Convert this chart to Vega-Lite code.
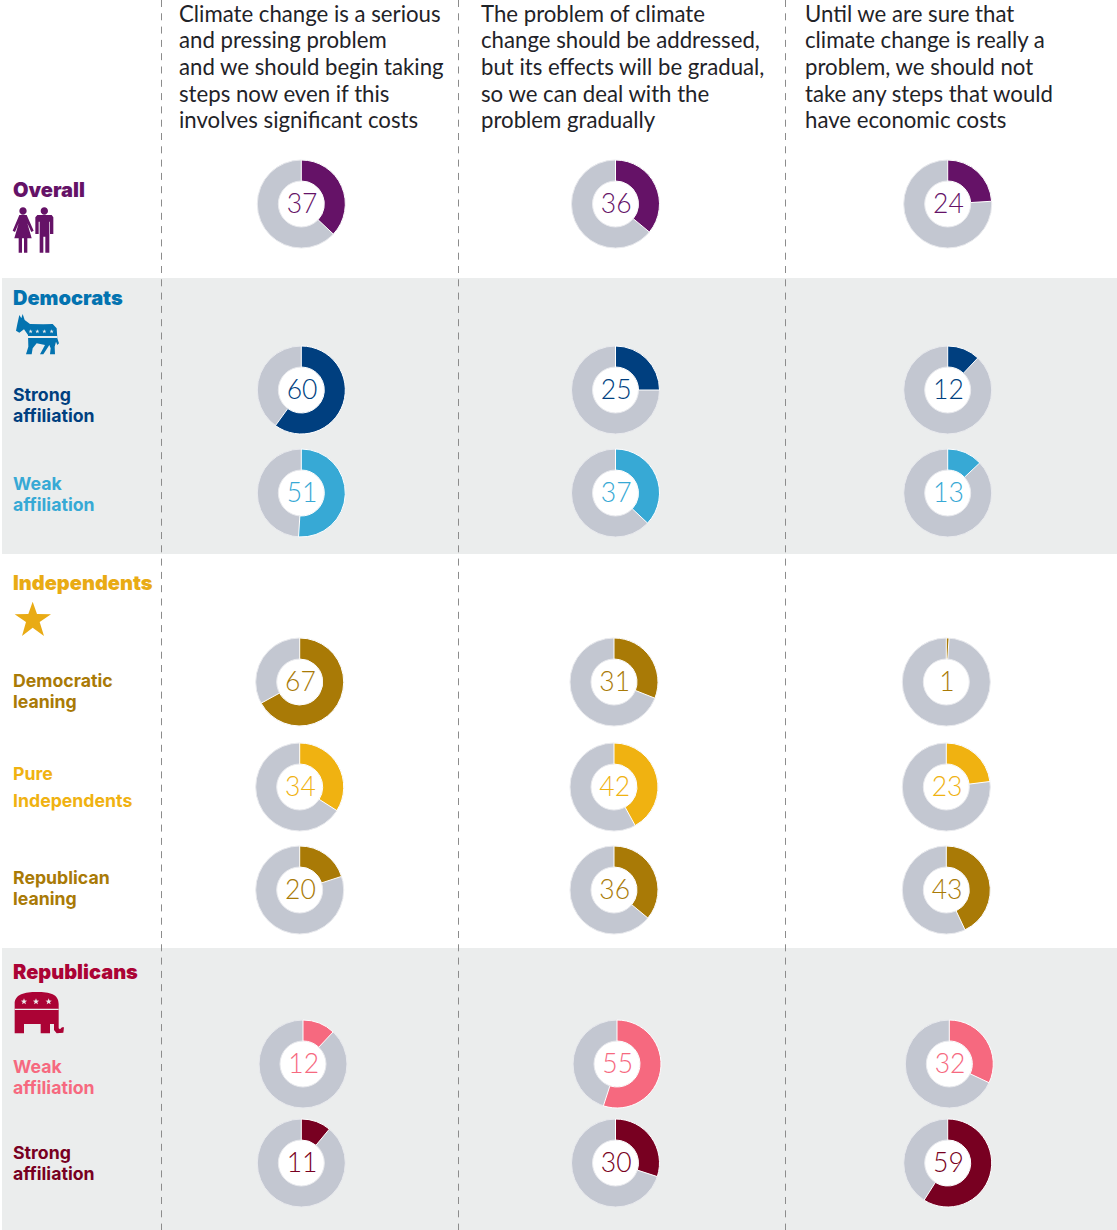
{
"$schema":"https://vega.github.io/schema/vega-lite/v6.json",
"width":1117,"height":1230,"padding":0,"autosize":{"type":"none"},"background":"#ffffff",
"config":{"view":{"stroke":null}},
"datasets":{
"bands":[{"group":"Democrats","xslot":0,"xslot2":9,"slot":5,"slot2":12},{"group":"Republicans","xslot":0,"xslot2":9,"slot":21,"slot2":28}],
"rules":[{"xslot":3,"slot":0,"slot2":28},{"xslot":5,"slot":0,"slot2":28},{"xslot":7,"slot":0,"slot2":28}],
"headers":[
{"xslot":4,"slot":1,"text":"Climate change is a serious\nand pressing problem\nand we should begin taking\nsteps now even if this\ninvolves significant costs"},
{"xslot":6,"slot":1,"text":"The problem of climate\nchange should be addressed,\nbut its effects will be gradual,\nso we can deal with the\nproblem gradually"},
{"xslot":8,"slot":1,"text":"Until we are sure that\nclimate change is really a\nproblem, we should not\ntake any steps that would\nhave economic costs"}],
"titles":[
{"text":"Overall","slot":2,"series":"Overall","xslot":1},
{"text":"Democrats","slot":6,"series":"Democrats","xslot":1},
{"text":"Independents","slot":13,"series":"Independents","xslot":1},
{"text":"Republicans","slot":22,"series":"Republicans","xslot":1}],
"icons":[
{"icon":"people","slot":4,"series":"Overall","xslot":2},
{"icon":"donkey","slot":7,"series":"Democrats","xslot":2},
{"icon":"donkeyMarks","slot":7,"series":"Detail","xslot":2},
{"icon":"star","slot":14,"series":"Independents","xslot":2},
{"icon":"elephant","slot":23,"series":"Republicans","xslot":2},
{"icon":"elephantMarks","slot":23,"series":"Detail","xslot":2}],
"labels":[
{"text":"Strong\naffiliation","slot":9,"series":"Dem strong","xslot":1,"spacing":"tight"},
{"text":"Weak\naffiliation","slot":10,"series":"Dem weak","xslot":1,"spacing":"tight"},
{"text":"Democratic\nleaning","slot":15,"series":"Dem leaning","xslot":1,"spacing":"tight"},
{"text":"Pure\nIndependents","slot":17,"series":"Pure","xslot":1,"spacing":"wide"},
{"text":"Republican\nleaning","slot":19,"series":"Rep leaning","xslot":1,"spacing":"tight"},
{"text":"Weak\naffiliation","slot":25,"series":"Rep weak","xslot":1,"spacing":"tight"},
{"text":"Strong\naffiliation","slot":26,"series":"Rep strong","xslot":1,"spacing":"tight"}],
"donuts":[
{"series":"Overall","slot":3,"col":1,"value":37},{"series":"Overall","slot":3,"col":2,"value":36},{"series":"Overall","slot":3,"col":3,"value":24},
{"series":"Dem strong","slot":8,"col":1,"value":60},{"series":"Dem strong","slot":8,"col":2,"value":25},{"series":"Dem strong","slot":8,"col":3,"value":12},
{"series":"Dem weak","slot":11,"col":1,"value":51},{"series":"Dem weak","slot":11,"col":2,"value":37},{"series":"Dem weak","slot":11,"col":3,"value":13},
{"series":"Dem leaning","slot":16,"col":1,"value":67},{"series":"Dem leaning","slot":16,"col":2,"value":31},{"series":"Dem leaning","slot":16,"col":3,"value":1},
{"series":"Pure","slot":18,"col":1,"value":34},{"series":"Pure","slot":18,"col":2,"value":42},{"series":"Pure","slot":18,"col":3,"value":23},
{"series":"Rep leaning","slot":20,"col":1,"value":20},{"series":"Rep leaning","slot":20,"col":2,"value":36},{"series":"Rep leaning","slot":20,"col":3,"value":43},
{"series":"Rep weak","slot":24,"col":1,"value":12},{"series":"Rep weak","slot":24,"col":2,"value":55},{"series":"Rep weak","slot":24,"col":3,"value":32},
{"series":"Rep strong","slot":27,"col":1,"value":11},{"series":"Rep strong","slot":27,"col":2,"value":30},{"series":"Rep strong","slot":27,"col":3,"value":59}]
},
"data":{"name":"donuts"},
"resolve":{"scale":{"x":"independent"}},
"encoding":{
"y":{"field":"slot","type":"quantitative","axis":null,"scale":{"nice":false,"zero":false,"domain":[0,1,2,3,4,5,6,7,8,9,10,11,12,13,14,15,16,17,18,19,20,21,22,23,24,25,26,27,28],"range":[0,14.5,190,204,230,278,298,335,390,395,484,493,554,583,620,681,682,774,787,878,890,948,972,1014,1064,1067,1153,1163,1230]}},
"x":{"field":"xslot","type":"quantitative","axis":null,"scale":{"nice":false,"zero":false,"domain":[0,1,2,3,4,5,6,7,8,9],"range":[2,13,35,161.5,179,458.5,481,785.5,805,1117]}},
"color":{"field":"series","type":"nominal","legend":null,"scale":{"domain":["Overall","Democrats","Dem strong","Dem weak","Independents","Dem leaning","Pure","Rep leaning","Republicans","Rep weak","Rep strong","Detail"],"range":["#651267","#0373b0","#003f7f","#37a9d5","#e9ab14","#a97a06","#f0b211","#a97a06","#ab0335","#f6697f","#780021","#ebeded"]}}
},
"layer":[
{"data":{"name":"bands"},"mark":{"type":"rect"},"encoding":{"color":{"value":"#ebeded"},"x2":{"field":"xslot2"},"y2":{"field":"slot2"}}},
{"data":{"name":"rules"},"mark":{"type":"rule","strokeDash":[7,6.3],"strokeWidth":1},"encoding":{"color":{"value":"#8c8c8c"},"y2":{"field":"slot2"}}},
{"data":{"name":"headers"},"mark":{"type":"text","align":"left","baseline":"middle","lineBreak":"\n","lineHeight":26.7,"font":"Lato","fontSize":22.2,"fontWeight":400,"dy":0},"encoding":{"color":{"value":"#1f2328"},"text":{"field":"text"}}},
{"data":{"name":"titles"},"mark":{"type":"text","align":"left","baseline":"middle","font":"Inter","fontSize":20,"fontWeight":900,"dy":1},"encoding":{"text":{"field":"text"}}},
{"data":{"name":"labels"},"transform":[{"filter":"datum.spacing == 'tight'"}],"mark":{"type":"text","align":"left","baseline":"middle","lineBreak":"\n","lineHeight":21,"font":"Inter","fontSize":17.7,"fontWeight":700,"dy":1},"encoding":{"text":{"field":"text"}}},
{"data":{"name":"labels"},"transform":[{"filter":"datum.spacing == 'wide'"}],"mark":{"type":"text","align":"left","baseline":"middle","lineBreak":"\n","lineHeight":27,"font":"Inter","fontSize":17.7,"fontWeight":700,"dy":1},"encoding":{"text":{"field":"text"}}},
{"data":{"name":"icons"},"mark":{"type":"point","filled":true,"opacity":1,"size":0.4444,"strokeWidth":0},"encoding":{"shape":{"field":"icon","type":"nominal","legend":null,"scale":{"domain":["people","donkey","donkeyMarks","star","elephant","elephantMarks"],"range":[
"M-47 -57A11 11 0 1 0 -25 -57A11 11 0 1 0 -47 -57ZM-47 -45L-25 -45L-4 2L-11 6L-23 -20L-10 25L-23 25L-23 68L-33 68L-33 25L-39 25L-39 68L-49 68L-49 25L-62 25L-49 -20L-60 6L-67 2ZM17 -57A11 11 0 1 0 39 -57A11 11 0 1 0 17 -57ZM7 -45L50 -45L55 -38L55 12L45 12L45 -25L43 -25L43 68L31 68L31 20L25 20L25 68L14 68L14 -25L11 -25L11 12L1 12L1 -38Z",
"M-47 -60L-41 -50L-37 -63L-31 -45L-15 -33L25 -32L53 -33L65 -20L67 10L72 25L67 30L63 20L59 35L60 58L45 58L47 40L43 30L25 58L15 58L30 30L5 25L-7 40L-10 58L-27 58L-20 35L-21 0L-33 -17L-47 -7L-57 -13L-53 -33Z",
"M-21 3L67 3L67 9L-21 9ZM-13 -17L-11.5 -13L-7 -13L-10.5 -10L-9 -5L-13 -8L-17 -5L-15.5 -10L-19 -13L-14.5 -13ZM7 -17L8.5 -13L13 -13L9.5 -10L11 -5L7 -8L3 -5L4.5 -10L1 -13L5.5 -13ZM28 -17L29.5 -13L34 -13L30.5 -10L32 -5L28 -8L24 -5L25.5 -10L22 -13L26.5 -13ZM50 -17L51.5 -13L56 -13L52.5 -10L54 -5L50 -8L46 -5L47.5 -10L44 -13L48.5 -13Z",
"M-7 -55L6 -18L48 -17L14 6L27 48L-7 23L-39 48L-27 6L-61 -17L-20 -18Z",
"M-61 -30C-61 -60 -30 -66 5 -66C45 -66 71 -60 71 -30L71 43L75 46L81 40L87 40L85 56L65 58L57 48L57 30L45 30L45 58L17 58L17 30L-33 30L-33 58L-61 58Z",
"M-61 -16L71 -16L71 -12L-61 -12ZM-33 -47L-30.6 -40.2L-23.5 -40.1L-29.2 -35.8L-27.1 -28.9L-33 -33L-38.9 -28.9L-36.8 -35.8L-42.5 -40.1L-35.4 -40.2ZM3 -47L5.4 -40.2L12.5 -40.1L6.8 -35.8L8.9 -28.9L3 -33L-2.9 -28.9L-0.8 -35.8L-6.5 -40.1L0.6 -40.2ZM41 -47L43.4 -40.2L50.5 -40.1L44.8 -35.8L46.9 -28.9L41 -33L35.1 -28.9L37.2 -35.8L31.5 -40.1L38.6 -40.2Z"
]}}}},
{"transform":[{"filter":{"field":"series","oneOf":["Overall","Dem strong","Dem weak","Rep strong"]}}],
"encoding":{"x":{"field":"col","type":"quantitative","axis":null,"scale":{"nice":false,"zero":false,"domain":[1,2,3],"range":[301.3,615.5,947.7]}}},
"layer":[
{"mark":{"type":"arc","radius":23,"radius2":0,"theta":0,"theta2":6.2832,"strokeWidth":0},"encoding":{"color":{"value":"#ffffff"}}},
{"mark":{"type":"arc","radius":44,"radius2":23,"theta":0,"theta2":6.2832,"stroke":"#e9eaee","strokeWidth":1},"encoding":{"color":{"value":"#c3c7d1"}}},
{"mark":{"type":"arc","radius":44,"radius2":23,"stroke":"#ffffff","strokeWidth":1},"encoding":{"theta":{"field":"value","type":"quantitative","stack":null,"scale":{"domain":[0,100],"range":[0,6.2832]}},"theta2":{"datum":0}}},
{"mark":{"type":"text","font":"Lato","fontSize":26.5,"fontWeight":300,"baseline":"middle","align":"center","dy":1,"dx":0.7},"encoding":{"text":{"field":"value","type":"quantitative"}}}
]},
{"transform":[{"filter":{"field":"series","oneOf":["Dem leaning","Pure","Rep leaning"]}}],
"encoding":{"x":{"field":"col","type":"quantitative","axis":null,"scale":{"nice":false,"zero":false,"domain":[1,2,3],"range":[299.7,614,946.3]}}},
"layer":[
{"mark":{"type":"arc","radius":23,"radius2":0,"theta":0,"theta2":6.2832,"strokeWidth":0},"encoding":{"color":{"value":"#ffffff"}}},
{"mark":{"type":"arc","radius":44,"radius2":23,"theta":0,"theta2":6.2832,"stroke":"#e9eaee","strokeWidth":1},"encoding":{"color":{"value":"#c3c7d1"}}},
{"mark":{"type":"arc","radius":44,"radius2":23,"stroke":"#ffffff","strokeWidth":1},"encoding":{"theta":{"field":"value","type":"quantitative","stack":null,"scale":{"domain":[0,100],"range":[0,6.2832]}},"theta2":{"datum":0}}},
{"mark":{"type":"text","font":"Lato","fontSize":26.5,"fontWeight":300,"baseline":"middle","align":"center","dy":1,"dx":0.7},"encoding":{"text":{"field":"value","type":"quantitative"}}}
]},
{"transform":[{"filter":{"field":"series","oneOf":["Rep weak"]}}],
"encoding":{"x":{"field":"col","type":"quantitative","axis":null,"scale":{"nice":false,"zero":false,"domain":[1,2,3],"range":[303,617,949.3]}}},
"layer":[
{"mark":{"type":"arc","radius":23,"radius2":0,"theta":0,"theta2":6.2832,"strokeWidth":0},"encoding":{"color":{"value":"#ffffff"}}},
{"mark":{"type":"arc","radius":44,"radius2":23,"theta":0,"theta2":6.2832,"stroke":"#e9eaee","strokeWidth":1},"encoding":{"color":{"value":"#c3c7d1"}}},
{"mark":{"type":"arc","radius":44,"radius2":23,"stroke":"#ffffff","strokeWidth":1},"encoding":{"theta":{"field":"value","type":"quantitative","stack":null,"scale":{"domain":[0,100],"range":[0,6.2832]}},"theta2":{"datum":0}}},
{"mark":{"type":"text","font":"Lato","fontSize":26.5,"fontWeight":300,"baseline":"middle","align":"center","dy":1,"dx":0.7},"encoding":{"text":{"field":"value","type":"quantitative"}}}
]}
]
}
